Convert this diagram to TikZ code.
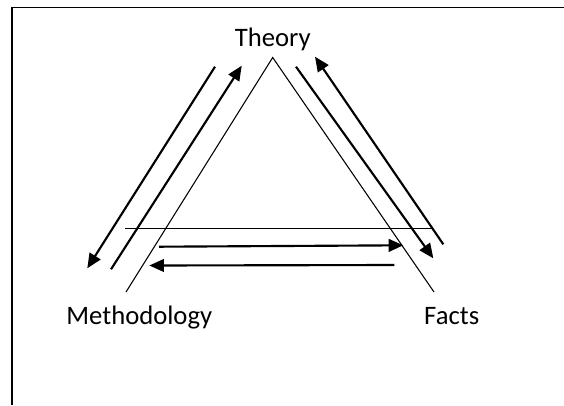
\documentclass[tikz,border=0pt]{standalone}
\usepackage{fontspec}
\setmainfont{Carlito}
\usetikzlibrary{arrows.meta}
\begin{document}
\begin{tikzpicture}[>={Triangle[length=11pt,width=9.5pt]},x=0.75pt,y=-0.75pt,
    lbl/.style={font=\fontsize{20}{24}\selectfont, inner sep=0pt, anchor=base},
    leg/.style={line width=0.8pt},
    flow/.style={->,line width=1.6pt}]
    \useasboundingbox (0,0) rectangle (564,405);
    % frame (cut at right and bottom)
    \draw[line width=1.2pt] (12,405) -- (12,7.5) -- (564,7.5);
    \node[lbl] (theory) at (272.7,46.5) {Theory};
    \node[lbl] (meth) at (139.3,324) {Methodology};
    \node[lbl] (facts) at (451.7,324) {Facts};
    % triangle
    \coordinate (top) at (272.7,57.5);
    \coordinate (bl) at (126,292);
    \coordinate (br) at (434,292);
    \draw[leg] (bl) -- (top) -- (br);
    \coordinate (hl) at (125.3,228.3);
    \coordinate (hr) at (433.3,228.3);
    \draw[leg] (hl) -- (hr);
    % left side arrows
    \coordinate (a1) at (215,66.7);
    \coordinate (a2) at (87.3,268.3);
    \coordinate (b1) at (111,269.3);
    \coordinate (b2) at (241.7,65.7);
    \draw[flow] (a1) -- (a2);
    \draw[flow] (b1) -- (b2);
    % right side arrows
    \coordinate (c1) at (296,66.7);
    \coordinate (c2) at (433.3,258.3);
    \coordinate (d1) at (443.3,244.3);
    \coordinate (d2) at (315,56.7);
    \draw[flow] (c1) -- (c2);
    \draw[flow] (d1) -- (d2);
    % bottom arrows
    \coordinate (e1) at (159,246.7);
    \coordinate (e2) at (403.3,245.3);
    \coordinate (f1) at (394.3,265);
    \coordinate (f2) at (149.3,265.5);
    \draw[flow] (e1) -- (e2);
    \draw[flow] (f1) -- (f2);
\end{tikzpicture}
\end{document}
